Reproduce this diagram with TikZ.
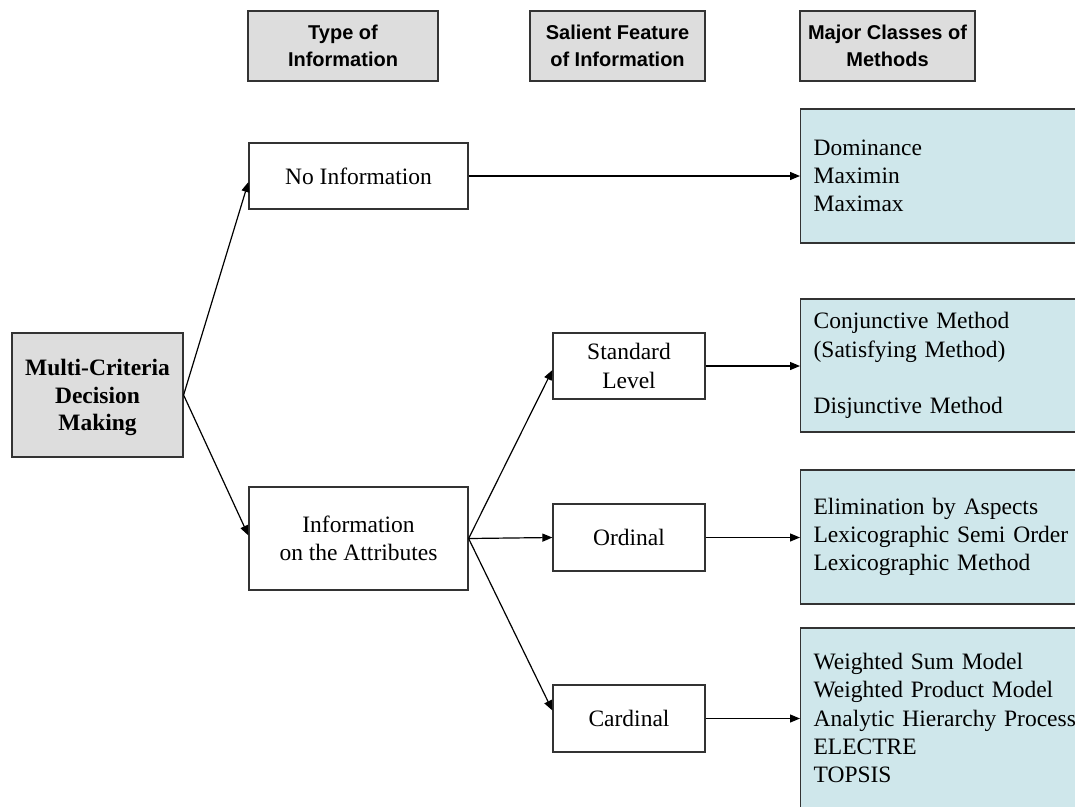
\documentclass[tikz,border=0pt]{standalone}
\usepackage{fontspec}
\setmainfont{Liberation Serif}
\setsansfont{Liberation Sans}
\usetikzlibrary{arrows.meta}
\definecolor{hdrgray}{HTML}{DDDDDD}
\definecolor{methodfill}{HTML}{CFE7EB}
\definecolor{edgegray}{HTML}{333333}
\begin{document}
\begin{tikzpicture}[x=1pt,y=-1pt,
  header/.style={draw=edgegray, line width=1.2pt, fill=hdrgray, align=center, inner sep=0pt,
    font=\sffamily\bfseries\fontsize{20}{27.5}\selectfont},
  plainbox/.style={draw=edgegray, line width=1.2pt, fill=white, align=center, inner sep=0pt,
    font=\fontsize{23.5}{28.3}\selectfont},
  rootbox/.style={plainbox, fill=hdrgray, text depth=0pt, font=\bfseries\fontsize{23.5}{27.5}\selectfont},
  method/.style={draw=edgegray, line width=1.2pt, fill=methodfill, anchor=west, align=left,
    text width=265pt, inner xsep=13pt, inner ysep=0pt,
    font=\fontsize{23.5}{28.3}\selectfont},
  conn/.style={line width=1.2pt, -{Triangle[length=10pt,width=8pt]}}
]
\useasboundingbox (0,0) rectangle (1075,806);

% column headers
\node[header, minimum width=190pt, minimum height=70pt] (htype) at (343,46) {Type of\\Information};
\node[header, minimum width=175pt, minimum height=70pt] (hfeat) at (617.5,46) {Salient Feature\\of Information};
\node[header, minimum width=175pt, minimum height=70pt] (hmeth) at (887.5,46) {Major Classes of\\Methods};

% root
\node[rootbox, minimum width=171pt, minimum height=124pt] (mcdm) at (97.5,395) {Multi-Criteria\\Decision\\Making};

% type of information
\node[plainbox, minimum width=219pt, minimum height=66pt] (noinfo) at (358.5,176) {No Information};
\node[plainbox, minimum width=219pt, minimum height=103pt] (attr) at (358.5,538.5) {Information\\on the Attributes};

% salient features
\node[plainbox, minimum width=152pt, minimum height=66pt] (std) at (629,366) {Standard\\Level};
\node[plainbox, minimum width=152pt, minimum height=67pt] (ord) at (629,537.5) {Ordinal};
\node[plainbox, minimum width=152pt, minimum height=67pt] (card) at (629,718.5) {Cardinal};

% classes of methods
\node[method, minimum height=134pt] (m1) at (800,176) {Dominance\\Maximin\\Maximax};
\node[method, minimum height=133pt] (m2) at (800,365.5) {Conjunctive Method\\(Satisfying Method)\\[28.3pt]Disjunctive Method};
\node[method, minimum height=134pt] (m3) at (800,537) {Elimination by Aspects\\Lexicographic Semi Order\\Lexicographic Method};
\node[method, minimum height=180pt] (m4) at (800,718) {Weighted Sum Model\\Weighted Product Model\\Analytic Hierarchy Process\\ELECTRE\\TOPSIS};

% connectors
\draw[conn] (mcdm.east) -- ([yshift=-6pt]noinfo.west);
\draw[conn] (mcdm.east) -- ([yshift=3pt]attr.west);
\draw[conn] (attr.east) -- ([yshift=-4pt]std.west);
\draw[conn] (attr.east) -- (ord.west);
\draw[conn] (attr.east) -- ([yshift=8pt]card.west);
\draw[conn] (noinfo.east) -- (noinfo.east -| m1.west);
\draw[conn] (std.east) -- (std.east -| m2.west);
\draw[conn] (ord.east) -- (ord.east -| m3.west);
\draw[conn] (card.east) -- (card.east -| m4.west);
\end{tikzpicture}
\end{document}
